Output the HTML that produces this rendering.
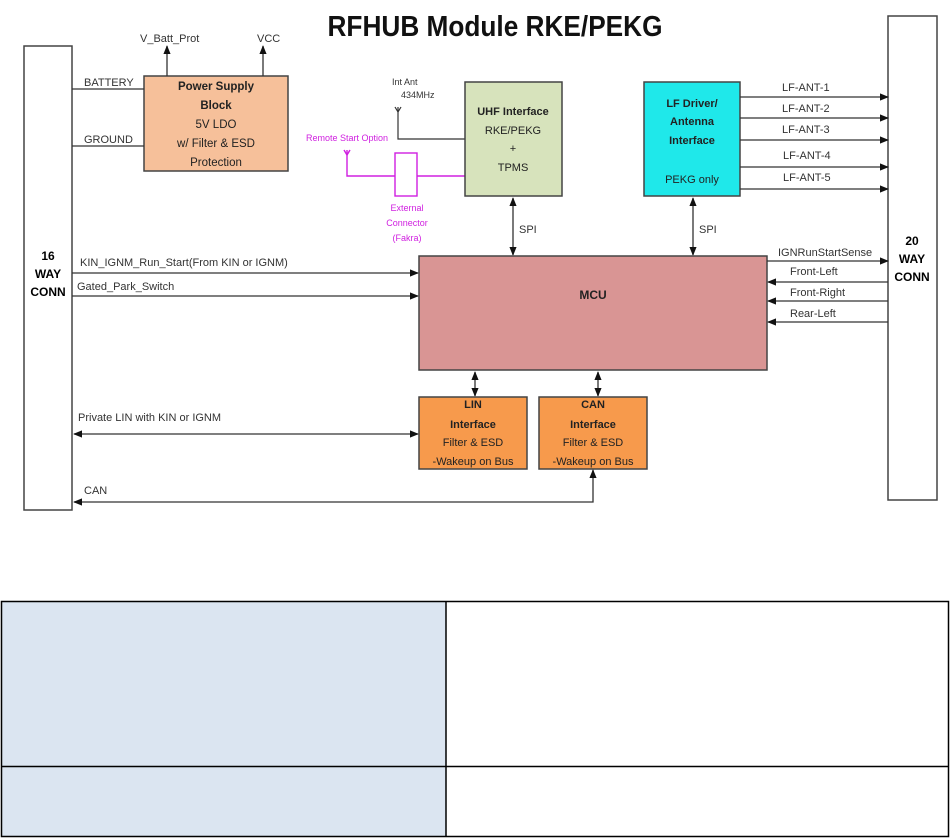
<!DOCTYPE html>
<html><head><meta charset="utf-8"><style>
html,body{margin:0;padding:0;background:#fff;}
svg{display:block;font-family:"Liberation Sans",sans-serif;}
</style></head><body>
<svg width="951" height="838" viewBox="0 0 951 838" xmlns="http://www.w3.org/2000/svg">
<defs>
<marker id="a" viewBox="0 0 10 10" refX="9" refY="5" markerWidth="7" markerHeight="7" orient="auto-start-reverse"><path d="M0,1 L10,5 L0,9 z" fill="#111"/></marker>
</defs>
<rect width="951" height="838" fill="#fff"/>
<text x="495" y="36" font-size="29" font-weight="bold" text-anchor="middle" fill="#111" textLength="335" lengthAdjust="spacingAndGlyphs">RFHUB Module RKE/PEKG</text>

<!-- connectors -->
<rect x="24" y="46" width="48" height="464" fill="#fff" stroke="#444" stroke-width="1.5"/>
<text x="48" y="260" font-size="12" font-weight="bold" text-anchor="middle">16</text>
<text x="48" y="278" font-size="12" font-weight="bold" text-anchor="middle">WAY</text>
<text x="48" y="296" font-size="12" font-weight="bold" text-anchor="middle">CONN</text>
<rect x="888" y="16" width="49" height="484" fill="#fff" stroke="#444" stroke-width="1.5"/>
<text x="912" y="245" font-size="12" font-weight="bold" text-anchor="middle">20</text>
<text x="912" y="263" font-size="12" font-weight="bold" text-anchor="middle">WAY</text>
<text x="912" y="281" font-size="12" font-weight="bold" text-anchor="middle">CONN</text>

<!-- power -->
<rect x="144" y="76" width="144" height="95" fill="#f6c09a" stroke="#444" stroke-width="1.5"/>
<g font-size="11.5" text-anchor="middle" fill="#222">
<text x="216" y="90" font-weight="bold">Power Supply</text>
<text x="216" y="109" font-weight="bold">Block</text>
<text x="216" y="128">5V LDO</text>
<text x="216" y="147">w/ Filter &amp; ESD</text>
<text x="216" y="166">Protection</text>
</g>
<g stroke="#333" stroke-width="1.3" fill="none">
<line x1="72" y1="89" x2="144" y2="89"/>
<line x1="72" y1="146" x2="144" y2="146"/>
<line x1="167" y1="76" x2="167" y2="46" marker-end="url(#a)"/>
<line x1="263" y1="76" x2="263" y2="46" marker-end="url(#a)"/>
</g>
<g font-size="11" fill="#333">
<text x="84" y="86">BATTERY</text>
<text x="84" y="143">GROUND</text>
<text x="140" y="42">V_Batt_Prot</text>
<text x="257" y="42">VCC</text>
</g>

<!-- antenna -->
<text x="392" y="85" font-size="9" fill="#333">Int Ant</text>
<text x="401" y="98" font-size="9" fill="#333">434MHz</text>
<g stroke="#333" stroke-width="1.2" fill="none">
<path d="M398,107 L398,139 L465,139"/>
<path d="M395,107 L398,112 L401,107"/>
</g>
<g stroke="#d020e0" stroke-width="1.4" fill="none">
<path d="M347,150 L347,176 L395,176"/>
<path d="M344,150 L347,155 L350,150"/>
<rect x="395" y="153" width="22" height="43"/>
<line x1="417" y1="176" x2="465" y2="176"/>
</g>
<g font-size="9" fill="#d020e0" text-anchor="middle">
<text x="347" y="141">Remote Start Option</text>
<text x="407" y="211">External</text>
<text x="407" y="226">Connector</text>
<text x="407" y="241">(Fakra)</text>
</g>

<!-- UHF -->
<rect x="465" y="82" width="97" height="114" fill="#d7e3bc" stroke="#444" stroke-width="1.5"/>
<g font-size="11" text-anchor="middle" fill="#222">
<text x="513" y="115" font-weight="bold">UHF Interface</text>
<text x="513" y="134">RKE/PEKG</text>
<text x="513" y="152">+</text>
<text x="513" y="171">TPMS</text>
</g>
<!-- LF -->
<rect x="644" y="82" width="96" height="114" fill="#1fe8ea" stroke="#444" stroke-width="1.5"/>
<g font-size="11" text-anchor="middle" fill="#222">
<text x="692" y="107" font-weight="bold">LF Driver/</text>
<text x="692" y="125" font-weight="bold">Antenna</text>
<text x="692" y="144" font-weight="bold">Interface</text>
<text x="692" y="183">PEKG only</text>
</g>
<g stroke="#333" stroke-width="1.3">
<line x1="740" y1="97" x2="888" y2="97" marker-end="url(#a)"/>
<line x1="740" y1="118" x2="888" y2="118" marker-end="url(#a)"/>
<line x1="740" y1="140" x2="888" y2="140" marker-end="url(#a)"/>
<line x1="740" y1="167" x2="888" y2="167" marker-end="url(#a)"/>
<line x1="740" y1="189" x2="888" y2="189" marker-end="url(#a)"/>
</g>
<g font-size="11" fill="#333">
<text x="782" y="91">LF-ANT-1</text>
<text x="782" y="112">LF-ANT-2</text>
<text x="782" y="133">LF-ANT-3</text>
<text x="783" y="159">LF-ANT-4</text>
<text x="783" y="181">LF-ANT-5</text>
</g>

<!-- SPI -->
<g stroke="#333" stroke-width="1.3">
<line x1="513" y1="198" x2="513" y2="255" marker-start="url(#a)" marker-end="url(#a)"/>
<line x1="693" y1="198" x2="693" y2="255" marker-start="url(#a)" marker-end="url(#a)"/>
</g>
<text x="519" y="233" font-size="11" fill="#333">SPI</text>
<text x="699" y="233" font-size="11" fill="#333">SPI</text>

<!-- MCU -->
<rect x="419" y="256" width="348" height="114" fill="#d99594" stroke="#444" stroke-width="1.5"/>
<text x="593" y="299" font-size="12" font-weight="bold" text-anchor="middle" fill="#222">MCU</text>

<g stroke="#333" stroke-width="1.3">
<line x1="72" y1="273" x2="418" y2="273" marker-end="url(#a)"/>
<line x1="72" y1="296" x2="418" y2="296" marker-end="url(#a)"/>
<line x1="767" y1="261" x2="888" y2="261" marker-end="url(#a)"/>
<line x1="888" y1="282" x2="768" y2="282" marker-end="url(#a)"/>
<line x1="888" y1="301" x2="768" y2="301" marker-end="url(#a)"/>
<line x1="888" y1="322" x2="768" y2="322" marker-end="url(#a)"/>
</g>
<g font-size="11" fill="#333">
<text x="80" y="266">KIN_IGNM_Run_Start(From KIN or IGNM)</text>
<text x="77" y="290">Gated_Park_Switch</text>
<text x="778" y="256">IGNRunStartSense</text>
<text x="790" y="275">Front-Left</text>
<text x="790" y="296">Front-Right</text>
<text x="790" y="317">Rear-Left</text>
</g>

<!-- LIN / CAN -->
<g stroke="#333" stroke-width="1.3">
<line x1="475" y1="372" x2="475" y2="396" marker-start="url(#a)" marker-end="url(#a)"/>
<line x1="598" y1="372" x2="598" y2="396" marker-start="url(#a)" marker-end="url(#a)"/>
</g>
<rect x="419" y="397" width="108" height="72" fill="#f79a4c" stroke="#444" stroke-width="1.5"/>
<rect x="539" y="397" width="108" height="72" fill="#f79a4c" stroke="#444" stroke-width="1.5"/>
<g font-size="11" text-anchor="middle" fill="#222">
<text x="473" y="408" font-weight="bold">LIN</text>
<text x="473" y="428" font-weight="bold">Interface</text>
<text x="473" y="446">Filter &amp; ESD</text>
<text x="473" y="465">-Wakeup on Bus</text>
<text x="593" y="408" font-weight="bold">CAN</text>
<text x="593" y="428" font-weight="bold">Interface</text>
<text x="593" y="446">Filter &amp; ESD</text>
<text x="593" y="465">-Wakeup on Bus</text>
</g>
<g stroke="#333" stroke-width="1.3" fill="none">
<line x1="74" y1="434" x2="418" y2="434" marker-start="url(#a)" marker-end="url(#a)"/>
<path d="M74,502 L593,502 L593,470" marker-start="url(#a)" marker-end="url(#a)"/>
</g>
<text x="78" y="421" font-size="11" fill="#333">Private LIN with KIN or IGNM</text>
<text x="84" y="494" font-size="11" fill="#333">CAN</text>

<!-- table -->
<rect x="2" y="602" width="444" height="164" fill="#dbe5f1"/>
<rect x="2" y="767" width="444" height="69" fill="#dbe5f1"/>
<g stroke="#000" stroke-width="1.5" fill="none">
<rect x="1.5" y="601.5" width="947" height="235"/>
<line x1="1.5" y1="766.5" x2="948.5" y2="766.5"/>
<line x1="446" y1="601.5" x2="446" y2="836.5"/>
</g>
</svg>
</body></html>
